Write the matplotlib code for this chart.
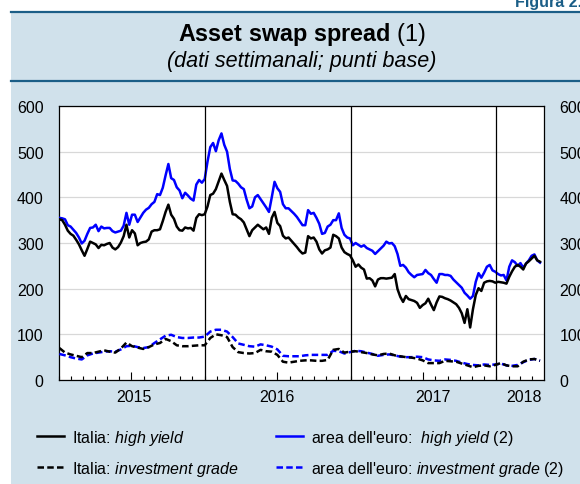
import pandas as pd
import matplotlib
matplotlib.use("Agg")
import matplotlib.pyplot as plt
import matplotlib.dates as mdates
import matplotlib.transforms as mtransforms
from matplotlib.patches import Rectangle
from matplotlib.lines import Line2D

plt.rcParams['font.family'] = ['Liberation Sans', 'DejaVu Sans']
plt.rcParams['mathtext.fontset'] = 'custom'
plt.rcParams['mathtext.rm'] = 'Liberation Sans'
plt.rcParams['mathtext.it'] = 'Liberation Sans:italic'
plt.rcParams['mathtext.bf'] = 'Liberation Sans:bold'

# weekly data (solid lines) and fortnightly readings (dashed lines)
weeks = pd.date_range('2015-01-02', periods=173, freq='7D')
fortnights = pd.date_range('2015-01-02', periods=87, freq='14D')

euro_hy = [
    355, 354, 352, 339, 336, 329, 322, 312, 299, 305,
    320, 333, 334, 340, 326, 336, 332, 333, 333, 326,
    323, 325, 327, 338, 366, 340, 362, 362, 346, 356,
    366, 373, 377, 385, 390, 407, 405, 421, 448, 473,
    442, 438, 422, 415, 398, 410, 404, 397, 393, 428,
    438, 432, 440, 478, 510, 519, 501, 525, 540, 515,
    500, 462, 437, 436, 430, 422, 418, 395, 376, 380,
    400, 405, 396, 387, 378, 368, 400, 434, 420, 412,
    385, 376, 376, 370, 364, 357, 348, 339, 339, 372,
    364, 366, 355, 342, 320, 322, 336, 340, 350, 350,
    365, 333, 318, 312, 310, 295, 300, 296, 292, 295,
    289, 286, 283, 276, 282, 288, 294, 303, 299, 300,
    293, 276, 250, 252, 246, 236, 230, 225, 230, 231,
    232, 241, 234, 230, 221, 213, 232, 232, 230, 230,
    228, 220, 214, 208, 202, 191, 185, 178, 184, 215,
    234, 224, 235, 248, 252, 240, 237, 232, 229, 230,
    218, 248, 262, 258, 250, 256, 246, 255, 262, 272,
    275, 262, 257,
]

italia_hy = [
    352, 350, 340, 327, 320, 316, 307, 297, 284, 272,
    287, 303, 300, 297, 289, 296, 295, 298, 300, 290,
    286, 291, 301, 315, 340, 312, 328, 321, 295, 300,
    302, 303, 308, 325, 328, 328, 330, 348, 368, 384,
    362, 353, 336, 328, 327, 334, 332, 333, 327, 355,
    363, 361, 363, 380, 405, 408, 418, 435, 452, 438,
    425, 390, 363, 362, 356, 352, 345, 330, 315, 328,
    334, 340, 335, 330, 334, 320, 355, 368, 344, 337,
    316, 310, 312, 305, 298, 291, 283, 277, 279, 315,
    310, 312, 303, 286, 277, 284, 286, 290, 318, 315,
    310, 290, 280, 276, 273, 262, 248, 253, 246, 242,
    222, 223, 218, 205, 220, 223, 223, 222, 223, 224,
    232, 199, 182, 171, 184, 177, 175, 173, 169, 158,
    164, 168, 178, 165, 153, 170, 183, 182, 179, 177,
    174, 170, 166, 158, 146, 125, 155, 115, 155, 186,
    201, 195, 213, 216, 217, 216, 213, 215, 214, 213,
    211, 226, 238, 248, 252, 248, 242, 255, 260, 266,
    272, 262, 259,
]

euro_ig = [
    57, 54, 50, 47, 45, 54, 58, 60, 62, 63,
    62, 67, 74, 75, 72, 70, 72, 81, 89, 97,
    99, 94, 92, 92, 93, 93, 95, 106, 110, 110,
    106, 94, 80, 77, 74, 73, 78, 76, 73, 67,
    53, 52, 52, 52, 54, 55, 55, 55, 55, 64,
    63, 58, 61, 64, 63, 60, 57, 53, 55, 56,
    54, 51, 50, 50, 51, 50, 45, 43, 42, 45,
    44, 42, 38, 35, 33, 32, 34, 33, 34, 36,
    32, 31, 33, 39, 44, 46, 42,
]

italia_ig = [
    70, 60, 56, 53, 50, 59, 59, 62, 65, 62,
    60, 69, 82, 74, 71, 68, 72, 78, 81, 90,
    85, 76, 74, 74, 75, 76, 76, 92, 100, 98,
    94, 72, 61, 59, 58, 59, 66, 63, 62, 55,
    40, 38, 40, 42, 43, 43, 42, 42, 44, 66,
    68, 60, 62, 63, 61, 59, 56, 54, 57, 58,
    54, 52, 50, 49, 47, 43, 37, 37, 37, 42,
    41, 40, 36, 32, 28, 31, 32, 30, 33, 37,
    32, 30, 30, 40, 45, 46, 42,
]

year_labels = ['2015', '2016', '2017', '2018']
year_label_dates = pd.to_datetime(['2015-07-07', '2016-07-01', '2017-07-25', '2018-03-10'])
year_breaks = pd.to_datetime(['2016-01-01', '2017-01-01', '2018-01-01'])

labels = [
    "Italia: $\\mathit{high\\ yield}$",
    "Italia: $\\mathit{investment\\ grade}$",
    "area dell'euro:  $\\mathit{high\\ yield}$ (2)",
    "area dell'euro: $\\mathit{investment\\ grade}$ (2)",
]

panel_col = '#d0e1eb'
dark_col = '#1b5e87'
blue = '#0000ff'

fig = plt.figure(figsize=(5.8, 4.85), dpi=100)
fig.patch.set_facecolor('white')

# light blue panel with the two dark rules
fig.patches.append(Rectangle((11 / 580, 0), 1, 1 - 12 / 485, transform=fig.transFigure,
                             facecolor=panel_col, edgecolor='none', zorder=-2))
for yy in [1 - 12.5 / 485, 1 - 81.5 / 485]:
    fig.lines.append(Line2D([11 / 580, 1], [yy, yy], transform=fig.transFigure,
                            color=dark_col, lw=1.6, zorder=-1))

fig.text(1.003, 1 - 7 / 485, 'Figura 2.', ha='right', va='baseline', color=dark_col,
         fontsize=11.5, fontweight='bold')
fig.text(302 / 580, 1 - 35 / 485, '$\\mathbf{Asset\\ swap\\ spread}$ (1)', ha='center', va='center',
         fontsize=16.8)
fig.text(302 / 580, 1 - 62 / 485, '(dati settimanali; punti base)', ha='center', va='center',
         fontsize=15.5, style='italic')

ax = fig.add_axes([59 / 580, 1 - 381 / 485, (544 - 59) / 580, (381 - 107) / 485])
ax.set_zorder(2)
ax.set_facecolor('white')

ls_dash = (0, (2.6, 1.3))
l_eu_hy, = ax.plot(weeks, euro_hy, color=blue, lw=1.8, zorder=3)
l_eu_ig, = ax.plot(fortnights, euro_ig, color=blue, lw=1.8, ls=ls_dash, zorder=3)
l_it_hy, = ax.plot(weeks, italia_hy, color='black', lw=1.8, zorder=4)
l_it_ig, = ax.plot(fortnights, italia_ig, color='black', lw=1.8, ls=ls_dash, zorder=4)

for d in year_breaks:
    ax.axvline(d, color='black', lw=0.9, zorder=5)

ax.set_ylim(0, 600)
ax.set_xlim(pd.Timestamp('2015-01-01'), pd.Timestamp('2018-04-30'))
ax.set_yticks(range(0, 601, 100))
ax.grid(axis='y', color='#d8d8d8', lw=0.9, zorder=1)
ax.set_axisbelow(True)
ax.tick_params(axis='y', length=0, labelsize=11.5, pad=11, labelright=True)

ax.xaxis.set_major_locator(mdates.MonthLocator(bymonth=7))
ax.xaxis.set_minor_locator(mdates.MonthLocator())
ax.tick_params(axis='x', which='major', direction='in', length=5.5, width=0.8, labelbottom=False)
ax.tick_params(axis='x', which='minor', direction='in', length=3, width=0.8)

trans = mtransforms.blended_transform_factory(ax.transData, ax.transAxes)
for d, lab in zip(year_label_dates, year_labels):
    ax.text(d, -0.062, lab, transform=trans, ha='center', va='center', fontsize=11.5)

for s in ax.spines.values():
    s.set_linewidth(0.9)

fig.legend([l_it_hy, l_it_ig, l_eu_hy, l_eu_ig], labels, ncol=2, frameon=False,
           loc='upper left', bbox_to_anchor=(37 / 580, 1 - 429 / 485),
           fontsize=11.5, handlelength=1.7, handletextpad=0.5, columnspacing=2.3,
           labelspacing=0.75, borderpad=0, borderaxespad=0)

fig.savefig('out.png', dpi=100, facecolor='white')
